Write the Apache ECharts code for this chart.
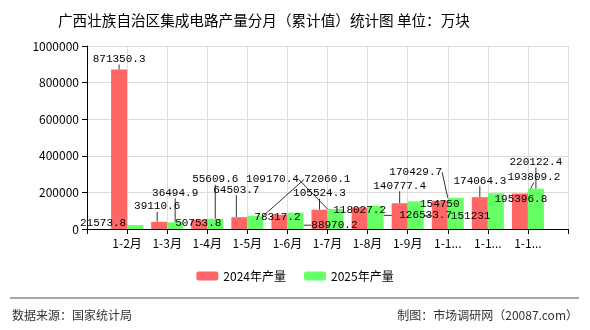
<!DOCTYPE html>
<html>
<head>
<meta charset="utf-8">
<script src="https://cdn.jsdelivr.net/npm/echarts@6/dist/echarts.min.js"></script>
<style>
  html, body { margin: 0; padding: 0; background: #fff; }
  #chart { width: 590px; height: 330px; }
</style>
</head>
<body>
<div id="chart"></div>
<script>
// 数据：广西壮族自治区集成电路产量（累计值，万块）
const months = ['1-2月', '1-3月', '1-4月', '1-5月', '1-6月', '1-7月', '1-8月', '1-9月', '1-10月', '1-11月', '1-12月']
const output2024 = [871350.3, 39110.6, 50753.8, 64503.7, 78317.2, 105524.3, 118027.2, 140777.4, 154750, 174064.3, 193809.2]
const output2025 = [21573.8, 36494.9, 55609.6, 72060.1, 88970.2, 109170.4, 126533.7, 151231, 170429.7, 195396.8, 220122.4]
const yTicks = [0, 200000, 400000, 600000, 800000, 1000000]

// 轴两端各留一格空位
const axisData = [''].concat(months, [''])
const pad = arr => [null].concat(arr, [null])

// 数值标签的错位（模仿原图中标签避让后的位置）
const labelShift = [
  [[0, 0], [-2, -5], [-1, 14], [-3, -17], [-2, 13], [0, -6], [0, 13], [0, -7], [0, 14], [0, -6], [14, -6]],
  [[-32, 9], [0, -19], [0, -29], [72, -26], [39, 23], [-63, -19], [50, 20], [55, 25], [-40, -15], [25, 16], [0, -16]]
]

const fontCN = '"Noto Sans CJK SC", sans-serif'
const fontNum = '"Liberation Mono", monospace'

let myChart = echarts.init(document.getElementById('chart'))

const labelStyle = {
  show: true,
  position: 'top',
  color: '#000',
  fontFamily: fontNum,
  fontSize: 11
}

myChart.setOption({
  animation: false,
  title: {
    text: '广西壮族自治区集成电路产量分月（累计值）统计图 单位：万块',
    left: 53,
    top: 8,
    textStyle: { fontFamily: fontCN, fontSize: 14.6, fontWeight: 'normal', color: '#000' }
  },
  grid: { left: 87, right: 22, top: 46, bottom: 101 },
  legend: {
    bottom: 43,
    left: 'center',
    itemWidth: 22,
    itemHeight: 9,
    itemGap: 18,
    textStyle: { fontFamily: fontCN, fontSize: 12, color: '#000' },
    data: ['2024年产量', '2025年产量']
  },
  xAxis: {
    type: 'category',
    boundaryGap: false,
    data: axisData,
    axisLine: { lineStyle: { color: '#000' } },
    axisTick: { show: true, lineStyle: { color: '#000' } },
    axisLabel: {
      interval: 0,
      color: '#000',
      fontFamily: fontCN,
      fontSize: 12,
      width: 36,
      overflow: 'truncate',
      margin: 8
    },
    splitLine: { show: true, lineStyle: { color: '#ddd' } }
  },
  yAxis: {
    type: 'value',
    min: yTicks[0],
    max: yTicks[yTicks.length - 1],
    interval: yTicks[1] - yTicks[0],
    axisLine: { show: true, lineStyle: { color: '#000' } },
    axisTick: { show: true, lineStyle: { color: '#000' } },
    axisLabel: { color: '#000', fontFamily: fontCN, fontSize: 12, formatter: v => String(v) },
    splitLine: { show: true, lineStyle: { color: '#ddd' } }
  },
  labelLayout: function (params) {
    const s = labelShift[params.seriesIndex][params.dataIndex - 1]
    if (!s) return {}
    return { dx: s[0], dy: s[1] }
  },
  series: [
    {
      name: '2024年产量',
      type: 'bar',
      data: pad(output2024),
      barWidth: 16,
      barGap: '0%',
      itemStyle: { color: '#ff6666' },
      label: labelStyle,
      labelLine: { show: true, length2: 0, lineStyle: { color: '#333' } }
    },
    {
      name: '2025年产量',
      type: 'bar',
      data: pad(output2025),
      barWidth: 16,
      barGap: '0%',
      itemStyle: { color: '#66ff66' },
      label: labelStyle,
      labelLine: { show: true, length2: 0, lineStyle: { color: '#333' } }
    }
  ],
  graphic: [
    {
      type: 'line',
      shape: { x1: 10, y1: 298, x2: 579, y2: 298 },
      style: { stroke: '#888', lineWidth: 1.5 }
    },
    {
      type: 'text',
      left: 12,
      top: 309,
      style: { text: '数据来源：国家统计局', fontFamily: fontCN, fontSize: 12, fill: '#333' }
    },
    {
      type: 'text',
      right: 12,
      top: 309,
      style: { text: '制图：市场调研网（20087.com）', fontFamily: fontCN, fontSize: 12, fill: '#333' }
    }
  ]
})
</script>
</body>
</html>
